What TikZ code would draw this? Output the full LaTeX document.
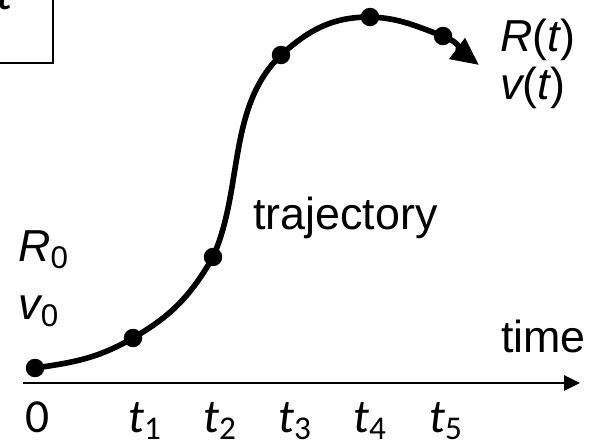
\documentclass[tikz,border=0pt]{standalone}
\usepackage{fontspec}
\setmainfont{Liberation Sans}
\newfontfamily\calfont{Carlito}
\usetikzlibrary{arrows.meta,positioning,calc}
\tikzset{
  dot/.style={circle, fill=black, inner sep=0pt, minimum size=0.37cm},
  path/.style={line width=3.2pt, line cap=round},
  axis/.style={line width=1.7pt, -{Triangle[length=0.32cm, width=0.3cm]}},
  txt/.style={inner sep=0pt, font=\fontsize{25.5}{30}\selectfont},
  ticktxt/.style={inner sep=0pt, anchor=base, font=\calfont\fontsize{27}{30}\selectfont},
  framebox/.style={draw=black, line width=1.7pt, fill=white},
}

\begin{document}
\begin{tikzpicture}[x=0.02cm, y=0.02cm]
  \useasboundingbox (0,0) rectangle (593,447);
  \clip (0,0) rectangle (593,447);

  %% ---- box in the corner (cut off) ----
  \draw[framebox] (-40,384) rectangle (53,480);
  \node[ticktxt, anchor=base east] (boxt) at (13,437) {\itshape t};

  %% ---- time axis ----
  \coordinate (ax0) at (23,64);
  \coordinate (ax1) at (580,64);
  \draw[axis] (ax0) -- (ax1);
  \node[txt, anchor=base east] (time) at (586,94) {time};

  \node[ticktxt] (l0) at (38,14)  {0};
  \node[ticktxt] (l1) at (145,14) {\itshape t\textsubscript{\upshape 1}};
  \node[ticktxt] (l2) at (220,14) {\itshape t\textsubscript{\upshape 2}};
  \node[ticktxt] (l3) at (295,14) {\itshape t\textsubscript{\upshape 3}};
  \node[ticktxt] (l4) at (370,14) {\itshape t\textsubscript{\upshape 4}};
  \node[ticktxt] (l5) at (446,14) {\itshape t\textsubscript{\upshape 5}};

  %% ---- trajectory ----
  \node[dot] (p0) at (35,79)  {};
  \node[dot] (p1) at (133,109) {};
  \node[dot] (p2) at (213,190) {};
  \node[dot] (p3) at (281,392) {};
  \node[dot] (p4) at (370,430) {};
  \node[dot] (p5) at (443,411) {};
  \coordinate (tip) at (479,382);

  \draw[path] (p0.center) to[out=8, in=210] (p1.center)
              to[out=30, in=240] (p2.center)
              to[out=66, in=224, looseness=0.9] (p3.center)
              to[out=42, in=180] (p4.center)
              to[out=-2, in=160] (p5.center);
  \draw[path, -{Triangle[length=0.55cm, width=0.5cm]}]
        (p5.center) to[out=-20, in=143] (tip);

  \node[txt, anchor=base west] (traj) at (253,217) {trajectory};

  %% ---- start and end values ----
  \node[txt, anchor=base west] (r0) at (18,185) {\itshape R\textsubscript{\upshape 0}};
  \node[txt, anchor=base west] (v0) at (18,127) {\itshape v\textsubscript{\upshape 0}};
  \node[txt, anchor=base west] (rt) at (500,395) {\itshape R\upshape(\itshape t\upshape)};
  \node[txt, anchor=base west] (vt) at (500,347) {\itshape v\upshape(\itshape t\upshape)};
\end{tikzpicture}
\end{document}
